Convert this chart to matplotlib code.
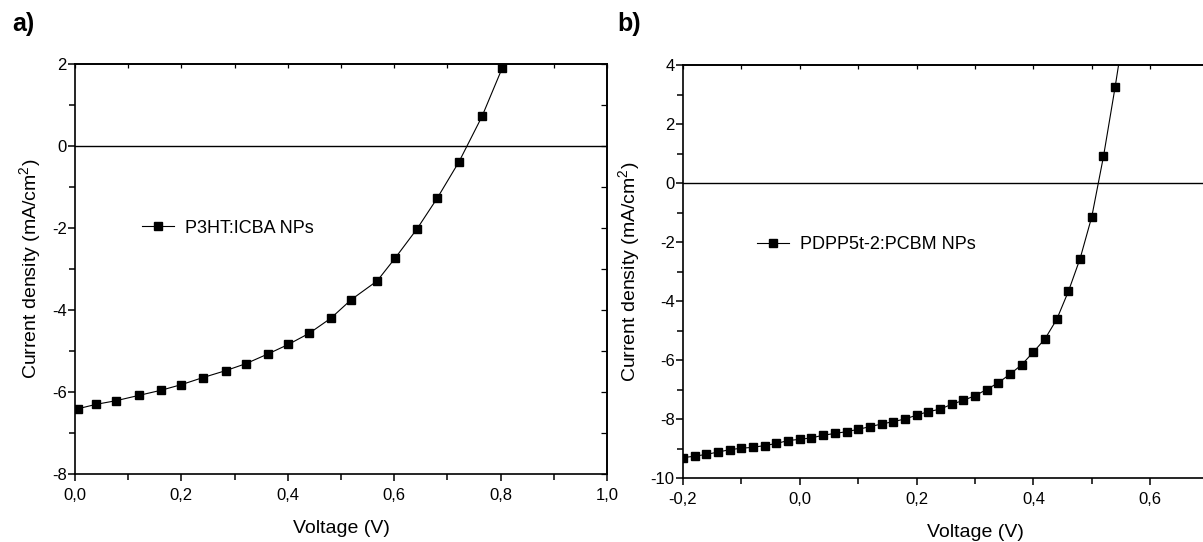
#!/usr/bin/env python3
"""plot.py -- J-V curves of the two nanoparticle solar cells, side by side.

Writes out.png
"""
import matplotlib
matplotlib.use("Agg")
import matplotlib.pyplot as plt
from matplotlib.ticker import MultipleLocator, FuncFormatter, NullFormatter

# ---- panel a: P3HT:ICBA NPs ----
volt_a = [0.005, 0.04, 0.078, 0.121, 0.161, 0.20, 0.24, 0.283, 0.321, 0.363,
          0.401, 0.44, 0.481, 0.519, 0.568, 0.602, 0.643, 0.681, 0.722,
          0.765, 0.803]
curr_a = [-6.41, -6.30, -6.21, -6.08, -5.96, -5.82, -5.65, -5.48, -5.31,
          -5.07, -4.84, -4.57, -4.20, -3.75, -3.29, -2.73, -2.02, -1.27,
          -0.38, 0.72, 1.90]
label_a = "P3HT:ICBA NPs"
xticks_a = [0.0, 0.2, 0.4, 0.6, 0.8, 1.0]

# ---- panel b: PDPP5t-2:PCBM NPs (last point sits above the frame) ----
volt_b = [-0.20, -0.18, -0.16, -0.14, -0.12, -0.10, -0.08, -0.06, -0.04,
          -0.02, 0.00, 0.02, 0.04, 0.06, 0.08, 0.10, 0.12, 0.14, 0.16, 0.18,
          0.20, 0.22, 0.24, 0.26, 0.28, 0.30, 0.32, 0.34, 0.36, 0.38, 0.40,
          0.42, 0.44, 0.46, 0.48, 0.50, 0.52, 0.54, 0.56]
curr_b = [-9.31, -9.26, -9.20, -9.12, -9.04, -8.99, -8.96, -8.90, -8.83,
          -8.73, -8.69, -8.64, -8.55, -8.49, -8.43, -8.35, -8.26, -8.17,
          -8.09, -8.00, -7.87, -7.75, -7.67, -7.50, -7.37, -7.21, -7.00,
          -6.77, -6.48, -6.16, -5.73, -5.28, -4.62, -3.67, -2.56, -1.14,
          0.90, 3.26, 5.8]
label_b = "PDPP5t-2:PCBM NPs"
xticks_b = [-0.2, 0.0, 0.2, 0.4, 0.6]

plt.rcParams.update({"font.family": ["Liberation Sans", "DejaVu Sans"],
                     "mathtext.fontset": "custom",
                     "mathtext.rm": "Liberation Sans",
                     "mathtext.it": "Liberation Sans",
                     "axes.linewidth": 1.2})

W, H = 1203, 542
fig = plt.figure(figsize=(W / 100, H / 100), dpi=100)


def px_axes(x0, y0, x1, y1):
    # pixel box (top-left origin) -> figure fraction
    return fig.add_axes([x0 / W, 1 - y1 / H, (x1 - x0) / W, (y1 - y0) / H])


comma = FuncFormatter(lambda v, _: f"{v:.1f}".replace(".", ","))
plain = FuncFormatter(lambda v, _: f"{v:.0f}")


def style(ax, xticks, ymaj, right=True):
    ax.set_xticks(xticks)
    ax.xaxis.set_minor_locator(MultipleLocator(0.1))
    ax.yaxis.set_major_locator(MultipleLocator(ymaj))
    ax.yaxis.set_minor_locator(MultipleLocator(ymaj / 2))
    ax.xaxis.set_major_formatter(comma)
    ax.yaxis.set_major_formatter(plain)
    ax.tick_params(which="both", direction="out", top=False, right=False,
                   labelsize=12, width=1.1)
    ax.tick_params(axis="x", which="major", length=5, pad=5)
    ax.tick_params(axis="y", which="major", length=5, pad=1)
    ax.tick_params(which="minor", length=4)
    # small inward ticks on the top (and right) frame, Origin style
    top = ax.secondary_xaxis("top")
    top.xaxis.set_minor_locator(MultipleLocator(0.1))
    top.set_xticks(xticks)
    top.tick_params(which="both", direction="in", length=3, width=0.9,
                    labeltop=False)
    top.xaxis.set_major_formatter(NullFormatter())
    if right:
        rgt = ax.secondary_yaxis("right")
        rgt.yaxis.set_major_locator(MultipleLocator(ymaj))
        rgt.yaxis.set_minor_locator(MultipleLocator(ymaj / 2))
        rgt.tick_params(which="both", direction="in", length=4, width=0.9,
                        labelright=False)
        rgt.yaxis.set_major_formatter(NullFormatter())
    ax.axhline(0, color="k", lw=1.0)
    ax.set_xlabel("Voltage (V)", fontsize=14, labelpad=12)
    ax.set_ylabel("Current density (mA/cm$^2$)", fontsize=14, labelpad=6)


def jv(ax, v, j, lbl, lx, ly):
    ax.plot(v, j, "ks-", lw=0.8, markersize=6.2, label=lbl, clip_on=True)
    ax.legend(loc="center left", bbox_to_anchor=(lx, ly), frameon=False,
              fontsize=13, borderpad=0, borderaxespad=0, handlelength=1.8,
              handletextpad=0.6)


# ---- a ----
ax1 = px_axes(75, 64, 607, 474)
ax1.set_xlim(0, 1.0)
ax1.set_ylim(-8, 2)
style(ax1, xticks_a, 2)
jv(ax1, volt_a, curr_a, label_a, 0.125, 0.6)
fig.text(12 / W, 1 - 24 / H, "a)", fontsize=18, fontweight="bold", va="center")

# ---- b (frame runs past the right edge of the image) ----
ax2 = px_axes(683, 65, 1267, 478)
ax2.set_xlim(-0.2, 0.8)
ax2.set_ylim(-10, 4)
ax2.spines["right"].set_visible(False)
style(ax2, xticks_b, 2, right=False)
jv(ax2, volt_b, curr_b, label_b, 0.126, 0.565)
fig.text(617 / W, 1 - 24 / H, "b)", fontsize=18, fontweight="bold", va="center")

fig.savefig("out.png", dpi=100)
print("wrote out.png")
